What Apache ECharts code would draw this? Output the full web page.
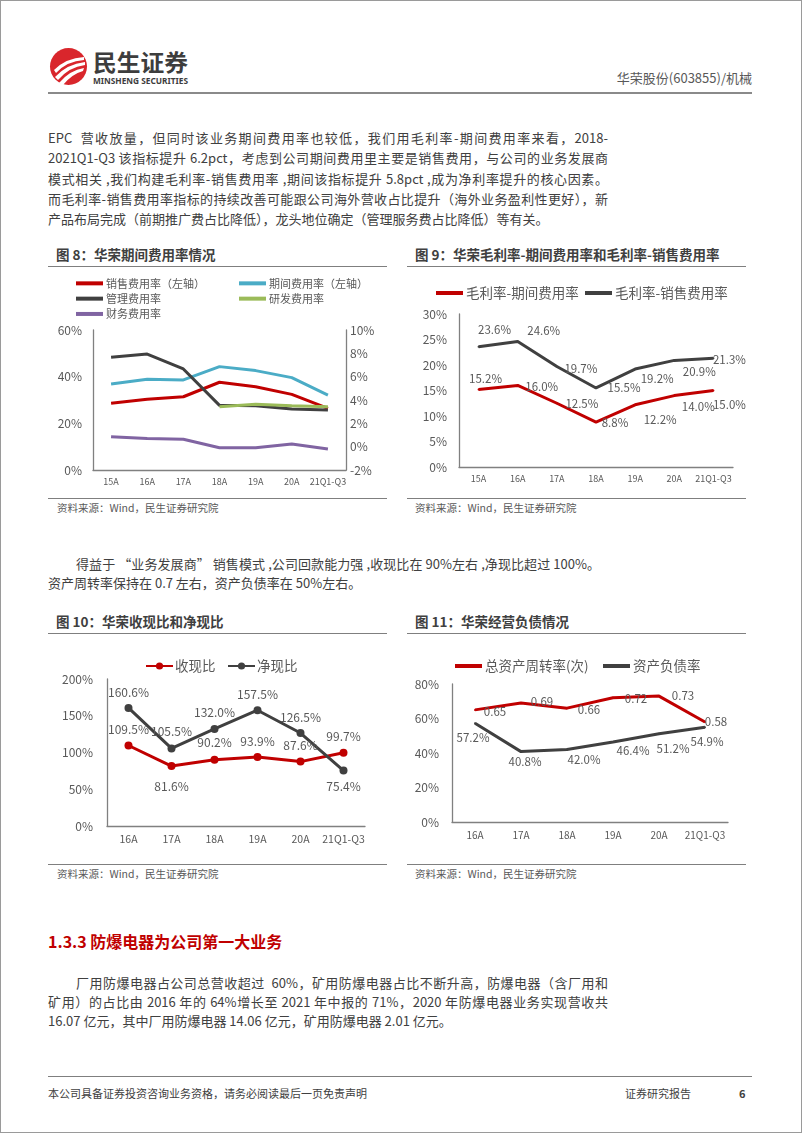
<!DOCTYPE html>
<html>
<head>
<meta charset="utf-8">
<script src="https://cdn.jsdelivr.net/npm/echarts@6/dist/echarts.min.js"></script>
<style>
html,body{margin:0;padding:0;background:#fff;}
#page{position:relative;width:802px;height:1133px;overflow:hidden;font-family:"Noto Sans CJK SC","Noto Sans",sans-serif;color:#404040;}
#frame{position:absolute;left:0;top:0;width:802px;height:1133px;box-sizing:border-box;border:1px solid #9a9a9a;}
.ln{position:absolute;left:48px;width:560px;height:20px;line-height:20px;font-size:13px;white-space:nowrap;text-align:justify;text-align-last:justify;}
.nj{text-align:left;text-align-last:left;}
.hr{position:absolute;height:0;border-top:1.5px solid #7f7f7f;}
.ttl{position:absolute;font-size:13.5px;font-weight:bold;color:#404040;line-height:18px;white-space:nowrap;}
.src{position:absolute;font-size:10.5px;color:#595959;line-height:14px;white-space:nowrap;}
#chart{position:absolute;left:0;top:0;width:802px;height:1133px;}
</style>
</head>
<body>
<div id="page">
  <svg style="position:absolute;left:0;top:0" width="260" height="100">
    <circle cx="68.5" cy="66.5" r="18.5" fill="#d9262c"/>
    <path d="M54 70 Q66 58 84 57 L84 60 Q67 61 56 73 Z" fill="#fff"/>
    <path d="M55 77 Q67 64 85 62 L85 65 Q69 67 58 80 Z" fill="#fff"/>
    <path d="M59 83 Q70 70 84 68 L83 71 Q72 74 63 85 Z" fill="#fff"/>
    <text x="93" y="71" font-size="23" font-weight="bold" fill="#3d3d3d" textLength="95" lengthAdjust="spacingAndGlyphs" font-family="Noto Sans CJK SC">民生证券</text>
    <text x="93" y="83.5" font-size="8.5" font-weight="bold" fill="#3d3d3d" textLength="95" lengthAdjust="spacingAndGlyphs" font-family="Noto Sans">MINSHENG SECURITIES</text>
  </svg>
  <div style="position:absolute;right:50px;top:69px;font-size:13px;color:#595959;line-height:18px;">华荣股份(603855)/机械</div>
  <div class="hr" style="left:48px;top:91.5px;width:704px;border-top:2px solid #8a8a8a;"></div>

  <div class="ln" style="top:128px">EPC&nbsp; 营收放量，但同时该业务期间费用率也较低，我们用毛利率-期间费用率来看，2018-</div>
  <div class="ln" style="top:148px">2021Q1-Q3 该指标提升 6.2pct，考虑到公司期间费用里主要是销售费用，与公司的业务发展商</div>
  <div class="ln" style="top:169px">模式相关 ,我们构建毛利率-销售费用率 ,期间该指标提升 5.8pct ,成为净利率提升的核心因素。</div>
  <div class="ln" style="top:189px">而毛利率-销售费用率指标的持续改善可能跟公司海外营收占比提升（海外业务盈利性更好），新</div>
  <div class="ln nj" style="top:209px">产品布局完成（前期推广费占比降低），龙头地位确定（管理服务费占比降低）等有关。</div>

  <div class="ttl" style="left:56px;top:245px;">图 8：华荣期间费用率情况</div>
  <div class="hr" style="left:48px;top:266px;width:339px;"></div>
  <div class="ttl" style="left:415px;top:245px;">图 9：华荣毛利率-期间费用率和毛利率-销售费用率</div>
  <div class="hr" style="left:407px;top:266px;width:339px;"></div>
  <div class="hr" style="left:48px;top:498px;width:339px;"></div>
  <div class="hr" style="left:407px;top:498px;width:339px;"></div>
  <div class="src" style="left:57px;top:501px;">资料来源：Wind，民生证券研究院</div>
  <div class="src" style="left:415px;top:501px;">资料来源：Wind，民生证券研究院</div>

  <div class="ln" style="top:554px;left:76px;width:524px;">得益于 “业务发展商” 销售模式 ,公司回款能力强 ,收现比在 90%左右 ,净现比超过 100%。</div>
  <div class="ln nj" style="top:573px">资产周转率保持在 0.7 左右，资产负债率在 50%左右。</div>

  <div class="ttl" style="left:56px;top:612px;">图 10：华荣收现比和净现比</div>
  <div class="hr" style="left:48px;top:633px;width:339px;"></div>
  <div class="ttl" style="left:415px;top:612px;">图 11：华荣经营负债情况</div>
  <div class="hr" style="left:407px;top:633px;width:339px;"></div>
  <div class="hr" style="left:48px;top:864px;width:339px;"></div>
  <div class="hr" style="left:407px;top:864px;width:339px;"></div>
  <div class="src" style="left:57px;top:867px;">资料来源：Wind，民生证券研究院</div>
  <div class="src" style="left:415px;top:867px;">资料来源：Wind，民生证券研究院</div>

  <div style="position:absolute;left:48px;top:930px;font-size:16px;font-weight:bold;color:#c00000;line-height:22px;white-space:nowrap;">1.3.3 防爆电器为公司第一大业务</div>

  <div class="ln" style="top:973px;left:76px;width:532px;">厂用防爆电器占公司总营收超过&nbsp; 60%，矿用防爆电器占比不断升高，防爆电器（含厂用和</div>
  <div class="ln" style="top:992px">矿用）的占比由 2016 年的 64%增长至 2021 年中报的 71%，2020 年防爆电器业务实现营收共</div>
  <div class="ln nj" style="top:1011px">16.07 亿元，其中厂用防爆电器 14.06 亿元，矿用防爆电器 2.01 亿元。</div>

  <div class="hr" style="left:48px;top:1076px;width:704px;"></div>
  <div style="position:absolute;left:48px;top:1085px;font-size:11px;color:#404040;line-height:16px;white-space:nowrap;">本公司具备证券投资咨询业务资格，请务必阅读最后一页免责声明</div>
  <div style="position:absolute;left:625px;top:1085px;font-size:11px;color:#404040;line-height:16px;">证券研究报告</div>
  <div style="position:absolute;left:739px;top:1085px;font-size:11px;font-weight:bold;color:#404040;line-height:16px;">6</div>

  <div id="chart"></div>
  <div id="frame"></div>
</div>
<script>
// ---- Data ----
const years7 = ['15A','16A','17A','18A','19A','20A','21Q1-Q3'];
const years6 = ['16A','17A','18A','19A','20A','21Q1-Q3'];

// Figure 8 (%): left axis
const salesExpRate  = [28.6, 30.3, 31.4, 37.6, 35.7, 32.4, 26.4];
const periodExpRate = [36.9, 38.9, 38.6, 44.3, 42.6, 39.6, 32.1];
// Figure 8 (%): right axis
const mgmtExpRate   = [7.66, 7.94, 6.66, 3.54, 3.51, 3.23, 3.14];
const rdExpRate     = [null, null, null, 3.43, 3.63, 3.51, 3.43];
const finExpRate    = [0.86, 0.71, 0.63, -0.09, -0.09, 0.23, -0.20];

// Figure 9 (%)
const gmMinusPeriod = [15.2, 16.0, 12.5, 8.8, 12.2, 14.0, 15.0];
const gmMinusSales  = [23.6, 24.6, 19.7, 15.5, 19.2, 20.9, 21.3];

// Figure 10 (%)
const cashToRevenue = [109.5, 81.6, 90.2, 93.9, 87.6, 99.7];
const cashToProfit  = [160.6, 105.5, 132.0, 157.5, 126.5, 75.4];

// Figure 11
const assetTurnover = [0.65, 0.69, 0.66, 0.72, 0.73, 0.58];   // times
const debtRatio     = [57.2, 40.8, 42.0, 46.4, 51.2, 54.9];   // %

// ---- Label offsets (style only, relative to the point) ----
const off9a  = [[7,-11],[24,1],[25,0],[19,1],[25,15],[24,11],[16,14]];
const off9b  = [[16,-17],[26,-11],[24,2],[28,0],[22,10],[25,11],[16,1]];
const off10a = [[0,-16],[0,20],[0,-17],[0,-16],[0,-16],[0,-16]];
const off10b = [[0,-16],[0,-17],[0,-17],[0,-16],[0,-16],[0,16]];
const off11a = [[20,2],[21,-1],[22,1],[23,1],[24,0],[11,0]];
const off11b = [[-2,14],[4,10],[17,10],[20,9],[14,15],[2,14]];

const RED = '#C00000', DARK = '#404040', CYAN = '#4BACC6', GREEN = '#9BBB59', PURPLE = '#8064A2';
const AX = '#808080', TXT = '#595959';
const FF = '"Noto Sans CJK SC","Noto Sans",sans-serif';

function withOffsets(vals, offs, conv) {
  return vals.map((v, i) => ({ value: conv ? conv(v) : v, label: { offset: offs[i] } }));
}
function catAxis(gi, data, fs, margin) {
  return {
    type: 'category', gridIndex: gi, data: data, boundaryGap: true,
    axisLine: { show: true, onZero: false, lineStyle: { color: AX, width: 1.3 } },
    axisTick: { show: false },
    axisLabel: { color: TXT, fontSize: fs, margin: margin, fontFamily: FF, interval: 0 },
    splitLine: { show: false }
  };
}
function valAxis(gi, min, max, interval, fmt, margin, pos) {
  return {
    type: 'value', gridIndex: gi, min: min, max: max, interval: interval, position: pos || 'left',
    axisLine: { show: true, lineStyle: { color: AX, width: 1.3 } },
    axisTick: { show: false },
    splitLine: { show: false },
    axisLabel: { color: TXT, fontSize: 12, margin: margin, fontFamily: FF, formatter: fmt }
  };
}
const pct0 = v => Math.round(v) + '%';

const labelBase = { show: true, position: 'inside', color: TXT, fontSize: 11.5, fontFamily: FF, align: 'center', verticalAlign: 'middle' };

const chart = echarts.init(document.getElementById('chart'), null, { renderer: 'canvas' });
const lineLegend = (left, top, names, fs, lh) => ({
  left: left, top: top, orient: 'vertical', data: names, icon: 'rect', itemWidth: 27, itemHeight: 4, itemGap: 0,
  selectedMode: false, padding: 0,
  textStyle: { color: TXT, fontSize: fs, lineHeight: lh, fontFamily: FF, padding: [0, 0, 0, -2] }
});

const option = {
  animation: false,
  grid: [
    { left: 93, top: 330, width: 253, height: 140 },
    { left: 459, top: 314, width: 274, height: 153 },
    { left: 107, top: 679, width: 258, height: 147 },
    { left: 452, top: 684, width: 276, height: 138 }
  ],
  legend: [
    lineLegend(76, 275.7, ['销售费用率（左轴）', '管理费用率', '财务费用率'], 11, 15.3),
    lineLegend(239, 275.7, ['期间费用率（左轴）', '研发费用率'], 11, 15.3),
    lineLegend(436, 285, ['毛利率-期间费用率'], 13.5, 16),
    lineLegend(585, 285, ['毛利率-销售费用率'], 13.5, 16),
    { left: 145, top: 658, data: ['收现比'], itemWidth: 27, itemHeight: 9, selectedMode: false, padding: 0,
      textStyle: { color: TXT, fontSize: 13.5, lineHeight: 16, fontFamily: FF, padding: [0,0,0,-3] } },
    { left: 227, top: 658, data: ['净现比'], itemWidth: 27, itemHeight: 9, selectedMode: false, padding: 0,
      textStyle: { color: TXT, fontSize: 13.5, lineHeight: 16, fontFamily: FF, padding: [0,0,0,-3] } },
    lineLegend(455, 658, ['总资产周转率(次)'], 13.5, 16),
    lineLegend(603, 658, ['资产负债率'], 13.5, 16)
  ],
  xAxis: [
    catAxis(0, years7, 9, 7),
    catAxis(1, years7, 9, 7),
    catAxis(2, years6, 10.5, 8),
    catAxis(3, years6, 10, 8)
  ],
  yAxis: [
    valAxis(0, 0, 60, 20, pct0, 11, 'left'),
    valAxis(0, -2, 10, 2, pct0, 4, 'right'),
    valAxis(1, 0, 30, 5, pct0, 12, 'left'),
    valAxis(2, 0, 200, 50, pct0, 14, 'left'),
    valAxis(3, 0, 0.8, 0.2, v => Math.round(v * 100) + '%', 13, 'left')
  ],
  series: [
    // Figure 8
    { name: '销售费用率（左轴）', type: 'line', xAxisIndex: 0, yAxisIndex: 0, data: salesExpRate, showSymbol: false, color: RED, lineStyle: { width: 3, color: RED } },
    { name: '期间费用率（左轴）', type: 'line', xAxisIndex: 0, yAxisIndex: 0, data: periodExpRate, showSymbol: false, color: CYAN, lineStyle: { width: 3, color: CYAN } },
    { name: '管理费用率', type: 'line', xAxisIndex: 0, yAxisIndex: 1, data: mgmtExpRate, showSymbol: false, color: DARK, lineStyle: { width: 3, color: DARK } },
    { name: '研发费用率', type: 'line', xAxisIndex: 0, yAxisIndex: 1, data: rdExpRate, showSymbol: false, color: GREEN, lineStyle: { width: 3, color: GREEN } },
    { name: '财务费用率', type: 'line', xAxisIndex: 0, yAxisIndex: 1, data: finExpRate, showSymbol: false, color: PURPLE, lineStyle: { width: 3, color: PURPLE } },
    // Figure 9
    { name: '毛利率-期间费用率', type: 'line', xAxisIndex: 1, yAxisIndex: 2, data: withOffsets(gmMinusPeriod, off9a),
      symbol: 'circle', symbolSize: 2, color: RED, itemStyle: { color: RED }, lineStyle: { width: 3, color: RED },
      label: Object.assign({}, labelBase, { formatter: p => p.value.toFixed(1) + '%' }) },
    { name: '毛利率-销售费用率', type: 'line', xAxisIndex: 1, yAxisIndex: 2, data: withOffsets(gmMinusSales, off9b),
      symbol: 'circle', symbolSize: 2, color: DARK, itemStyle: { color: DARK }, lineStyle: { width: 3, color: DARK },
      label: Object.assign({}, labelBase, { formatter: p => p.value.toFixed(1) + '%' }) },
    // Figure 10
    { name: '收现比', type: 'line', xAxisIndex: 2, yAxisIndex: 3, data: withOffsets(cashToRevenue, off10a),
      symbol: 'circle', symbolSize: 8, color: RED, itemStyle: { color: RED }, lineStyle: { width: 3, color: RED },
      label: Object.assign({}, labelBase, { fontSize: 12, formatter: p => p.value.toFixed(1) + '%' }) },
    { name: '净现比', type: 'line', xAxisIndex: 2, yAxisIndex: 3, data: withOffsets(cashToProfit, off10b),
      symbol: 'circle', symbolSize: 8, color: DARK, itemStyle: { color: DARK }, lineStyle: { width: 3, color: DARK },
      label: Object.assign({}, labelBase, { fontSize: 12, formatter: p => p.value.toFixed(1) + '%' }) },
    // Figure 11
    { name: '总资产周转率(次)', type: 'line', xAxisIndex: 3, yAxisIndex: 4, data: withOffsets(assetTurnover, off11a),
      symbol: 'circle', symbolSize: 2, color: RED, itemStyle: { color: RED }, lineStyle: { width: 3, color: RED },
      label: Object.assign({}, labelBase, { formatter: p => p.value.toFixed(2) }) },
    { name: '资产负债率', type: 'line', xAxisIndex: 3, yAxisIndex: 4, data: withOffsets(debtRatio, off11b, v => v / 100),
      symbol: 'circle', symbolSize: 2, color: DARK, itemStyle: { color: DARK }, lineStyle: { width: 3, color: DARK },
      label: Object.assign({}, labelBase, { formatter: p => (p.value * 100).toFixed(1) + '%' }) }
  ]
};
chart.setOption(option);
</script>
</body>
</html>
